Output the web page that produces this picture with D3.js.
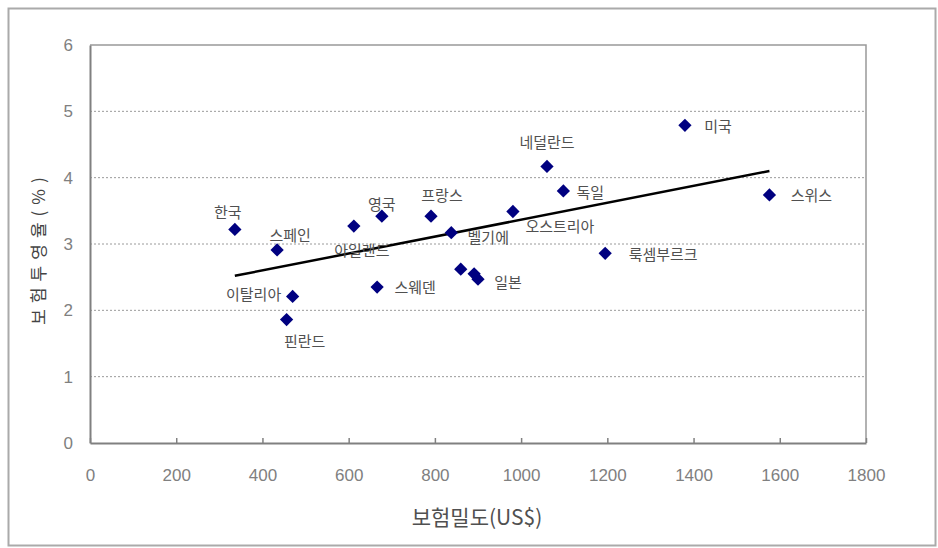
<!DOCTYPE html>
<html>
<head>
<meta charset="utf-8">
<script src="https://cdn.jsdelivr.net/npm/d3@7/dist/d3.min.js"></script>
<style>
  body { margin: 0; background: #fff; }
  svg text { font-family: "Liberation Sans", "Noto Sans CJK KR", sans-serif; }
</style>
</head>
<body>
<div class="graph"></div>
<script>
// country labels, insurance density (US$), insurance penetration (%)
const countries = ["한국", "스페인", "이탈리아", "핀란드", "아일랜드", "영국", "스웨덴", "프랑스", "벨기에",
                   "", "", "일본", "오스트리아", "네덜란드", "독일", "룩셈부르크", "미국", "스위스"];
const density = [336, 434, 470, 456, 612, 677, 666, 791, 838, 860, 891, 900, 981, 1060, 1098, 1195, 1380, 1576];
const penetration = [3.22, 2.91, 2.21, 1.86, 3.27, 3.42, 2.35, 3.42, 3.17, 2.62, 2.55, 2.47, 3.49, 4.17, 3.80, 2.86, 4.79, 3.74];

// label placement next to each marker (px)
const labelDx = [-7, 13, -39, 18, 8, 0, 38, 11, 37, 0, 0, 30, 47, 0, 27, 58, 33, 42];
const labelDy = [-18, -15, -3, 21, 23, -13, -1, -22, 4, 0, 0, 2, 14, -25, 1, 0, 0, 0];

// linear trend line end points
const trendX = [336, 1576];
const trendY = [2.52, 4.10];

const xTicks = [0, 200, 400, 600, 800, 1000, 1200, 1400, 1600, 1800];
const yTicks = [0, 1, 2, 3, 4, 5, 6];

const width = 938, height = 548;
const plotLeft = 90, plotRight = 866, plotTop = 45, plotBottom = 443;

const svg = d3.select(".graph").append("svg")
  .attr("width", width)
  .attr("height", height);

// outer chart border
svg.append("rect")
  .attr("x", 8.5).attr("y", 8.5)
  .attr("width", 927).attr("height", 537)
  .attr("fill", "none")
  .attr("stroke", "#aaa")
  .attr("stroke-width", 2);

const x = d3.scaleLinear().domain([0, 1800]).range([plotLeft, plotRight]);
const y = d3.scaleLinear().domain([0, 6]).range([plotBottom, plotTop]);

// gridlines
svg.append("g")
  .selectAll("line")
  .data(yTicks.filter(d => d > 0 && d < 6))
  .enter().append("line")
  .attr("x1", plotLeft).attr("x2", plotRight)
  .attr("y1", d => y(d)).attr("y2", d => y(d))
  .attr("stroke", "#9a9a9a")
  .attr("stroke-dasharray", "2,2");

// plot frame, top and right
svg.append("path")
  .attr("d", `M${plotLeft},${y(6)}H${plotRight}V${plotBottom}`)
  .attr("fill", "none")
  .attr("stroke", "#999")
  .attr("stroke-width", 1.5);

const xAxis = d3.axisBottom(x).tickValues(xTicks).tickFormat(d3.format("d"))
  .tickSizeInner(-5).tickSizeOuter(0).tickPadding(26);
const gx = svg.append("g")
  .attr("transform", `translate(0,${plotBottom})`)
  .call(xAxis);

const yAxis = d3.axisLeft(y).tickValues(yTicks).tickFormat(d3.format("d"))
  .tickSize(0).tickPadding(17);
const gy = svg.append("g")
  .attr("transform", `translate(${plotLeft},0)`)
  .call(yAxis);

[gx, gy].forEach(g => {
  g.select(".domain").attr("stroke", "#808080").attr("stroke-width", 2);
  g.selectAll(".tick line").attr("stroke", "#808080").attr("stroke-width", 1.5);
  g.selectAll(".tick text")
    .attr("fill", "#808080")
    .style("font-size", "17px");
});

// trend line
svg.append("line")
  .attr("x1", x(trendX[0])).attr("y1", y(trendY[0]))
  .attr("x2", x(trendX[1])).attr("y2", y(trendY[1]))
  .attr("stroke", "#000")
  .attr("stroke-width", 2.5);

// markers
const diamond = d3.symbol().type(d3.symbolSquare).size(88);
svg.append("g")
  .selectAll("path")
  .data(density)
  .enter().append("path")
  .attr("d", diamond)
  .attr("transform", (d, i) => `translate(${x(d)},${y(penetration[i])}) rotate(45)`)
  .attr("fill", "#000080");

// data labels
svg.append("g")
  .selectAll("text")
  .data(countries)
  .enter().append("text")
  .attr("x", (d, i) => x(density[i]) + labelDx[i])
  .attr("y", (d, i) => y(penetration[i]) + labelDy[i])
  .attr("text-anchor", "middle")
  .attr("dominant-baseline", "central")
  .attr("fill", "#505050")
  .style("font-family", "'Noto Sans CJK KR', sans-serif")
  .style("font-size", "15px")
  .text(d => d);

// axis titles
svg.append("text")
  .attr("x", 477).attr("y", 525)
  .attr("text-anchor", "middle")
  .attr("fill", "#505050")
  .style("font-size", "21px")
  .style("font-family", "'Noto Sans CJK KR', sans-serif")
  .text("보험밀도(US$)");

svg.append("text")
  .attr("transform", "translate(37,248) rotate(-90)")
  .attr("text-anchor", "middle")
  .attr("dominant-baseline", "central")
  .attr("fill", "#444")
  .style("font-size", "17px")
  .style("letter-spacing", "6px")
  .style("font-family", "'Noto Sans CJK KR', sans-serif")
  .text("보험투영율(%)");
</script>
</body>
</html>
